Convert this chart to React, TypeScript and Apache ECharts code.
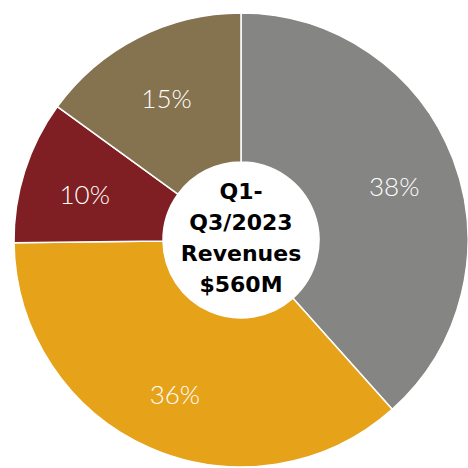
import React, { useEffect, useRef } from "react";
import * as echarts from "echarts";

const categories = ["Segment A", "Segment B", "Segment C", "Segment D"];
const shares = [38.4, 36.4, 10.2, 15.0];
const colors = ["#858583", "#E6A219", "#7F1F23", "#857350"];
const centerLines = ["Q1-", "Q3/2023", "Revenues", "$560M"];

export default function App() {
  const ref = useRef<HTMLDivElement>(null);
  useEffect(() => {
    if (!ref.current) return;
    const chart = echarts.init(ref.current, null, { renderer: "svg" });
    chart.setOption({
      animation: false,
      series: [
        {
          type: "pie",
          center: [241, 240],
          radius: [78, 227],
          startAngle: 90,
          clockwise: true,
          avoidLabelOverlap: false,
          itemStyle: { borderColor: "#ffffff", borderWidth: 1.5 },
          label: { show: false },
          labelLine: { show: false },
          emphasis: { disabled: true },
          data: categories.map((name, i) => ({
            name,
            value: shares[i],
            itemStyle: { color: colors[i] },
          })),
        },
        {
          type: "pie",
          center: [241, 244],
          radius: [95, 227],
          startAngle: 90,
          clockwise: true,
          silent: true,
          avoidLabelOverlap: false,
          itemStyle: { color: "rgba(0,0,0,0)", borderWidth: 0 },
          label: {
            show: true,
            position: "inside",
            color: "#ffffff",
            fontFamily: "Lato",
            fontWeight: 300,
            fontSize: 26,
            formatter: (p: any) => Math.round(p.percent) + "%",
          },
          labelLine: { show: false },
          emphasis: { disabled: true },
          data: categories.map((name, i) => ({ name, value: shares[i] })),
        },
      ],
      graphic: [
        {
          type: "text",
          x: 241,
          y: 238,
          style: {
            text: centerLines.join("\n"),
            textAlign: "center",
            textVerticalAlign: "middle",
            fontFamily: "DejaVu Sans",
            fontWeight: "bold",
            fontSize: 22,
            lineHeight: 31,
            fill: "#000000",
          },
        },
      ],
    });
    return () => chart.dispose();
  }, []);
  return (
    <div
      ref={ref}
      style={{ position: "absolute", left: 0, top: 0, width: 468, height: 468, background: "#ffffff" }}
    />
  );
}
